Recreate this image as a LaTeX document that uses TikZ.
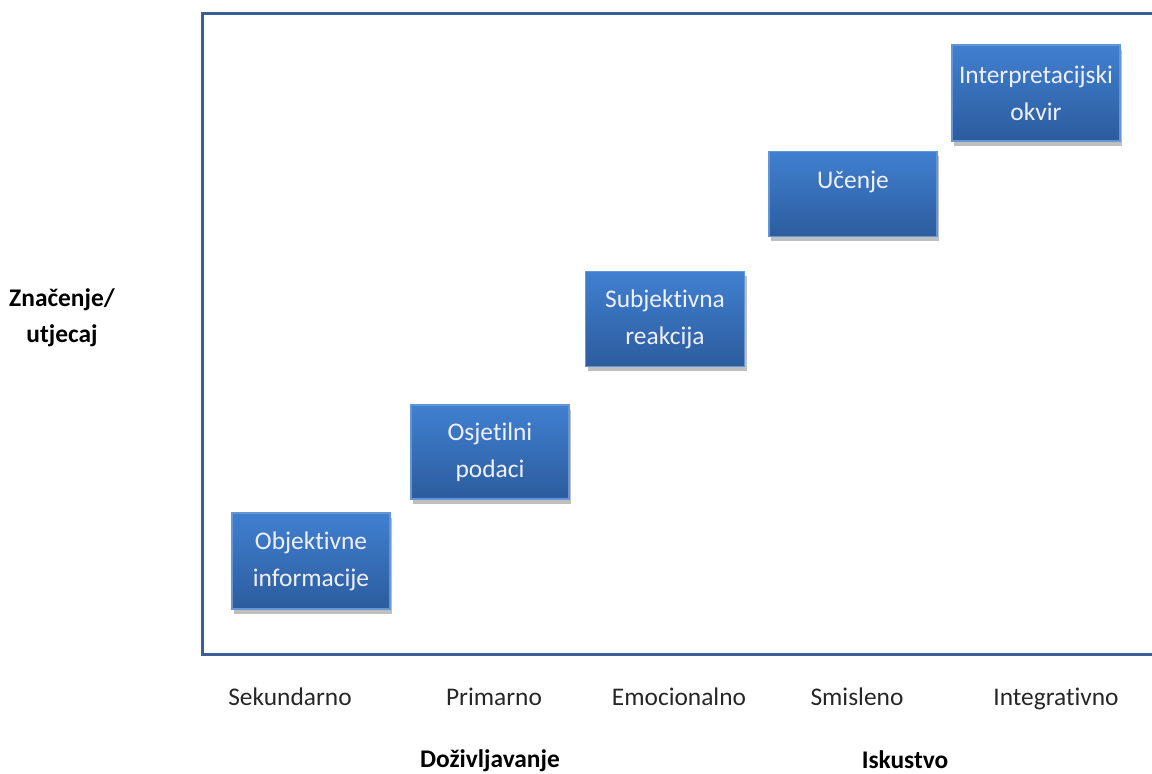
\documentclass[tikz,border=0pt]{standalone}
\usepackage{fontspec}
\setmainfont{Carlito}[Ligatures={NoCommon}]
\usetikzlibrary{shadows}

\definecolor{frameblue}{RGB}{58,95,150}
\definecolor{boxtop}{RGB}{64,128,208}
\definecolor{boxbottom}{RGB}{44,92,158}
\definecolor{boxedge}{RGB}{100,150,212}

\begin{document}
\begin{tikzpicture}[
    x=0.5pt, y=-0.5pt,
    box/.style={rectangle, draw=boxedge, line width=0.6pt, top color=boxtop, bottom color=boxbottom, text=white!94!blue, align=center, inner sep=2pt, font=\fontsize{12.7}{18.5}\selectfont, drop shadow={shadow xshift=1pt, shadow yshift=-2.5pt, fill=black, opacity=0.25}},
    level/.style={anchor=base, font=\fontsize{12.7}{15}\selectfont, text=black!85},
    axis/.style={font=\fontsize{12.7}{18}\selectfont\bfseries, align=center}
]
\clip (0,0) rectangle (1152,774);

% Frame of the chart
\draw[frameblue, line width=1.5pt] (202,14) rectangle (1180,655);

% Steps, lowest to highest
\node[box, minimum width=79pt, minimum height=48pt] (objinfo) at (311,561) {Objektivne\\informacije};
\node[box, minimum width=79pt, minimum height=47pt] (osjet) at (490,452) {Osjetilni\\podaci};
\node[box, minimum width=79.5pt, minimum height=47.5pt] (subj) at (665,319) {Subjektivna\\reakcija};
\node[box, minimum width=84pt, minimum height=42.5pt, text height=9pt, text depth=14pt] (ucenje) at (853,194) {Učenje};
\node[box, minimum width=84pt, minimum height=48pt] (okvir) at (1036,93) {Interpretacijski\\okvir};

% Levels along the bottom
\node[level] (sek) at (290,706) {Sekundarno};
\node[level] (prim) at (494,706) {Primarno};
\node[level] (emoc) at (679,706) {Emocionalno};
\node[level] (smis) at (857,706) {Smisleno};
\node[level] (integ) at (1056,706) {Integrativno};

% Axis titles
\node[axis, anchor=base] (dozivlj) at (490,768) {Doživljavanje};
\node[axis, anchor=base] (iskustvo) at (905,769) {Iskustvo};
\node[axis] (znacenje) at (62,318) {Značenje/\\utjecaj};

\end{tikzpicture}
\end{document}
